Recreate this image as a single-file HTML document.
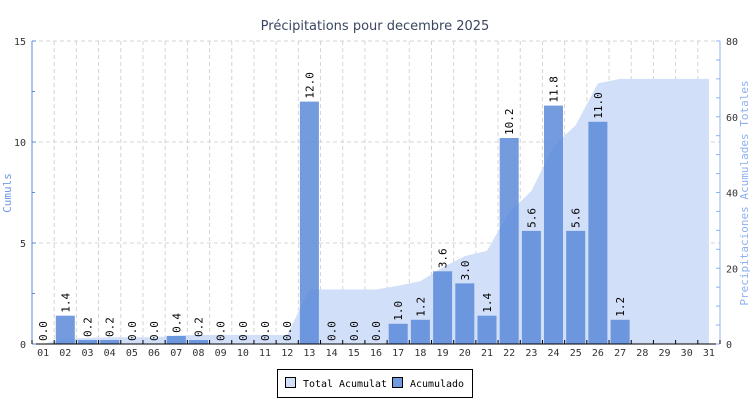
<!DOCTYPE html>
<html><head><meta charset="utf-8"><style>body{margin:0;background:#fff;overflow:hidden}svg{display:block}</style></head>
<body><div id="c"></div>
<script>
const vals=[0,1.4,0.2,0.2,0,0,0.4,0.2,0,0,0,0,12,0,0,0,1,1.2,3.6,3,1.4,10.2,5.6,11.8,5.6,11,1.2,null,null,null,null];
const L=32,R=720,T=41,B=344,W=(R-L)/31;
const yl=v=>B-v*(B-T)/15, yr=v=>B-v*(B-T)/80;
let s=`<svg width="750" height="400" xmlns="http://www.w3.org/2000/svg" font-family="'DejaVu Sans Mono','Liberation Mono',monospace">`;
s+=`<text x="375" y="30" text-anchor="middle" font-family="'DejaVu Sans','Liberation Sans',sans-serif" font-size="13" fill="#3a4560">Précipitations pour decembre 2025</text>`;
for(let v=5;v<=15;v+=5)s+=`<line x1="${L}" x2="${R}" y1="${yl(v)}" y2="${yl(v)}" stroke="#d4d4d4" stroke-dasharray="4,3"/>`;
for(let k=1;k<31;k++){const x=L+k*W;s+=`<line x1="${x}" x2="${x}" y1="${T}" y2="${B}" stroke="#d4d4d4" stroke-dasharray="4,3"/>`;}
s+=`<line x1="${R}" x2="${R}" y1="${T}" y2="${B}" stroke="#d4d4d4" stroke-dasharray="4,3"/>`;
let c=0,pts=[];vals.forEach((v,i)=>{c+=v||0;pts.push([L+W*(i+0.5),yr(c)]);});
s+=`<path d="M${pts[0][0]},${B} `+pts.map(p=>`L${p[0].toFixed(1)},${p[1].toFixed(1)}`).join(' ')+` L${pts[30][0]},${B}Z" fill="#d2dff8"/>`;
vals.forEach((v,i)=>{if(v===null)return;const cx=L+W*(i+0.5);const y=yl(v);
 if(v>0)s+=`<rect x="${(cx-9.5).toFixed(1)}" y="${y.toFixed(1)}" width="19" height="${(B-y).toFixed(1)}" fill="#5b8ad8" fill-opacity="0.85"/>`;
 s+=`<text transform="translate(${cx+4},${y-3}) rotate(-90)" font-size="11" fill="#000">${v.toFixed(1)}</text>`;});
s+=`<line x1="${L}" x2="${L}" y1="${T}" y2="${B}" stroke="#5b8ad8"/>`;
s+=`<line x1="${R}" x2="${R}" y1="${T}" y2="${B}" stroke="#8fb0f0"/>`;
s+=`<line x1="${L}" x2="${R}" y1="${B}" y2="${B}" stroke="#000"/>`;
for(let v=0;v<=15;v+=2.5){const y=yl(v);s+=`<line x1="${L}" x2="${L+(v%5?3:4)}" y1="${y}" y2="${y}" stroke="#5b8ad8"/>`;
 if(v%5==0)s+=`<text x="${L-6}" y="${y+4}" text-anchor="end" font-size="10" fill="#333">${v}</text>`;}
for(let v=0;v<=80;v+=5){const y=yr(v);s+=`<line x1="${R-4}" x2="${R}" y1="${y}" y2="${y}" stroke="#8fb0f0"/>`;
 if(v%20==0)s+=`<text x="${R+6}" y="${y+4}" font-size="10" fill="#333">${v}</text>`;}
for(let k=0;k<=31;k++){const x=L+k*W;s+=`<line x1="${x}" x2="${x}" y1="${B}" y2="${B-4}" stroke="#000"/>`;}
for(let i=0;i<31;i++)s+=`<text x="${L+W*(i+0.5)}" y="${B+12}" text-anchor="middle" font-size="10" fill="#333">${String(i+1).padStart(2,'0')}</text>`;
s+=`<text transform="translate(11,193) rotate(-90)" text-anchor="middle" font-size="11" fill="#6f9ae8">Cumuls</text>`;
s+=`<text transform="translate(748,193) rotate(-90)" text-anchor="middle" font-size="11" fill="#8fb0f0">Precipitaciones Acumulades Totales</text>`;
s+=`<rect x="277.5" y="369.5" width="195" height="28" fill="#fff" stroke="#000"/>`;
s+=`<rect x="285.5" y="377.5" width="10" height="10" fill="#d2dff8" stroke="#000"/>`;
s+=`<text x="303" y="387" font-size="10" textLength="84" lengthAdjust="spacingAndGlyphs">Total Acumulat</text>`;
s+=`<rect x="392.5" y="377.5" width="10" height="10" fill="#6f9ade" stroke="#000"/>`;
s+=`<text x="410" y="387" font-size="10" textLength="54" lengthAdjust="spacingAndGlyphs">Acumulado</text>`;
s+=`</svg>`;
document.getElementById('c').innerHTML=s;
</script></body></html>
